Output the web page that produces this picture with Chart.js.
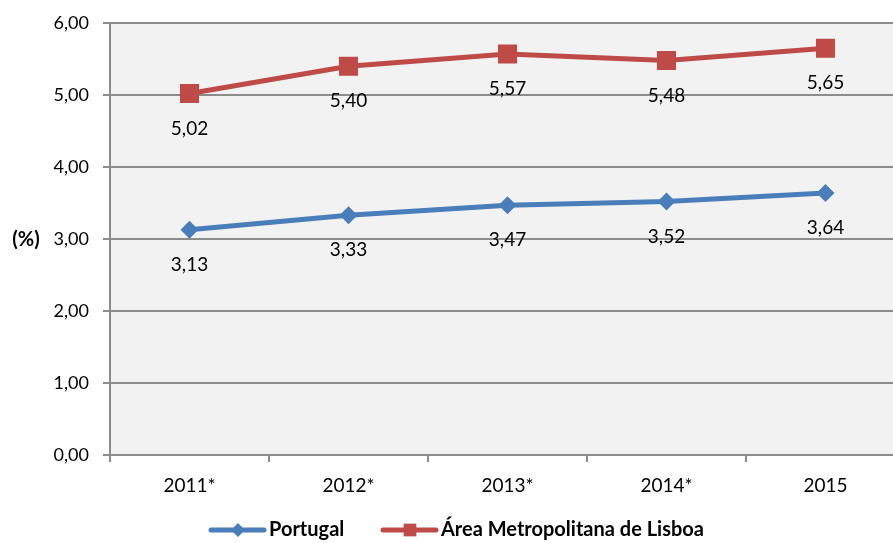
<!DOCTYPE html>
<html>
<head>
<meta charset="utf-8">
<script src="https://cdn.jsdelivr.net/npm/chart.js@4"></script>
<style>
  html, body { margin: 0; padding: 0; background: #fff; overflow: hidden; }
  /* the source image cuts the plot area off at its right edge,
     so the canvas runs a little past the window */
  #wrap { width: 905px; height: 543px; }
</style>
</head>
<body>
<div id="wrap"><canvas id="myChart"></canvas></div>
<script>
const years = ["2011*", "2012*", "2013*", "2014*", "2015"];
const portugal = [3.13, 3.33, 3.47, 3.52, 3.64];
const lisboa = [5.02, 5.40, 5.57, 5.48, 5.65];
const seriesNames = ["Portugal", "Área Metropolitana de Lisboa"];

const FONT = "Lato, 'Open Sans', sans-serif";
const blue = "#4a7ebb";
const red = "#be4b48";

function fmt(v) {
    return v.toFixed(2).replace(".", ",");
}

// grey plot area
const plotBg = {
    id: "plotBg",
    beforeDraw(chart) {
        const a = chart.chartArea;
        const ctx = chart.ctx;
        ctx.save();
        ctx.fillStyle = "#f2f2f2";
        ctx.fillRect(a.left, a.top, a.right - a.left, a.bottom - a.top);
        ctx.restore();
    }
};

// value labels under each point, "(%)" and the legend
const extras = {
    id: "extras",
    afterDatasetsDraw(chart) {
        const ctx = chart.ctx;
        ctx.save();
        ctx.font = "19px " + FONT;
        ctx.fillStyle = "#000";
        ctx.textAlign = "center";
        ctx.textBaseline = "middle";
        chart.data.datasets.forEach((ds, i) => {
            chart.getDatasetMeta(i).data.forEach((pt, j) => {
                ctx.fillText(fmt(ds.data[j]), pt.x, pt.y + 35);
            });
        });

        ctx.font = "bold 20px " + FONT;
        ctx.fillText("(%)", 26, 240);

        // legend
        const items = [
            { x: 211, color: blue, style: "rectRot", r: 7 },
            { x: 383, color: red, style: "rect", r: 9 }
        ];
        const ly = 530;
        items.forEach((it, i) => {
            ctx.strokeStyle = it.color;
            ctx.lineWidth = 5;
            ctx.lineCap = "round";
            ctx.beginPath();
            ctx.moveTo(it.x, ly);
            ctx.lineTo(it.x + 53, ly);
            ctx.stroke();
            ctx.fillStyle = it.color;
            Chart.helpers.drawPoint(ctx, { pointStyle: it.style, radius: it.r, rotation: 0, borderWidth: 0 }, it.x + 27, ly);
            ctx.fillStyle = "#000";
            ctx.textAlign = "left";
            ctx.font = "bold 20px " + FONT;
            ctx.fillText(seriesNames[i], it.x + 58, ly);
        });
        ctx.restore();
    }
};

new Chart(document.getElementById("myChart"), {
    type: "line",
    data: {
        labels: years,
        datasets: [
            {
                label: seriesNames[0],
                data: portugal,
                borderColor: blue,
                backgroundColor: blue,
                borderWidth: 5,
                pointStyle: "rectRot",
                pointRadius: 9,
                pointBorderWidth: 0,
                tension: 0
            },
            {
                label: seriesNames[1],
                data: lisboa,
                borderColor: red,
                backgroundColor: red,
                borderWidth: 5,
                pointStyle: "rect",
                pointRadius: 13.5,
                pointBorderWidth: 0,
                tension: 0
            }
        ]
    },
    options: {
        responsive: true,
        maintainAspectRatio: false,
        animation: false,
        layout: { autoPadding: false, padding: { top: 23, left: 0, right: 0, bottom: 0 } },
        plugins: {
            legend: { display: false },
            tooltip: { enabled: false }
        },
        scales: {
            x: {
                offset: true,
                grid: {
                    offset: true,
                    drawOnChartArea: false,
                    color: "#8c8c8c",
                    lineWidth: 2,
                    tickLength: 7
                },
                border: { color: "#8c8c8c", width: 2 },
                ticks: {
                    color: "#000",
                    font: { family: FONT, size: 19 },
                    padding: 12
                },
                afterFit(scale) {
                    scale.height = 88;
                    scale.paddingLeft = 0;
                    scale.paddingRight = 0;
                }
            },
            y: {
                min: 0,
                max: 6,
                ticks: {
                    stepSize: 1,
                    color: "#000",
                    font: { family: FONT, size: 18 },
                    padding: 14,
                    callback: (v) => fmt(v)
                },
                grid: {
                    color: "#8c8c8c",
                    lineWidth: 2,
                    tickLength: 7
                },
                border: { color: "#8c8c8c", width: 2 },
                afterFit(scale) {
                    scale.width = 110;
                    scale.paddingTop = 0;
                    scale.paddingBottom = 0;
                }
            }
        }
    },
    plugins: [plotBg, extras]
});
</script>
</body>
</html>
